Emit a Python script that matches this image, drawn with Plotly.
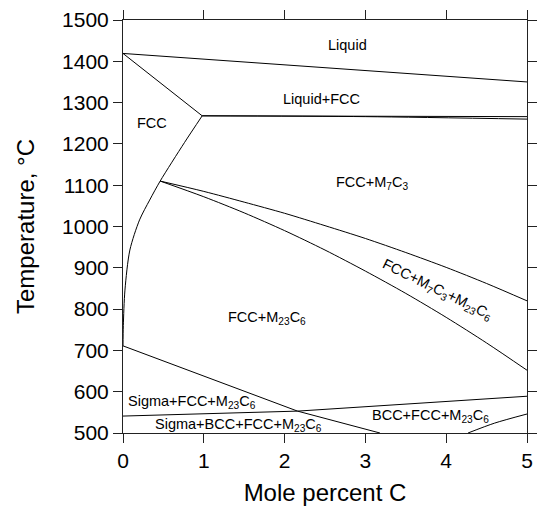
import plotly.graph_objects as go

# Phase boundary lines (Mole percent C, Temperature °C)
liquidus_x = [0, 5]
liquidus_t = [1419, 1350]

solidus_x = [0, 0.98]
solidus_t = [1419, 1268]

peritectic_a_x = [0.98, 5]
peritectic_a_t = [1268, 1266]
peritectic_b_x = [0.98, 3.0, 5]
peritectic_b_t = [1268, 1266, 1260]

fcc_solvus_x = [0.98, 0.76, 0.46, 0.33, 0.205, 0.085, 0.024, 0.004, 0.0]
fcc_solvus_t = [1268, 1203, 1110, 1064, 1016, 943, 846, 760, 711]

m7c3_upper_x = [0.46, 1.0, 1.5, 2.0, 2.5, 3.0, 3.5, 4.0, 4.5, 5.0]
m7c3_upper_t = [1110, 1085, 1059, 1032, 1002, 971, 937, 901, 862, 820]

m7c3_lower_x = [0.46, 1.0, 1.5, 2.0, 2.5, 3.0, 3.5, 4.0, 4.5, 5.0]
m7c3_lower_t = [1110, 1072, 1033, 990, 943, 892, 838, 780, 718, 652]

sigma_x = [0, 2.16, 3.18]
sigma_t = [711, 553, 500]

bcc_top_x = [0, 2.16, 5]
bcc_top_t = [541, 553, 589]

bcc_low_x = [4.27, 4.6, 5]
bcc_low_t = [500, 524, 546]

lines = [
    (liquidus_x, liquidus_t, "linear"), (solidus_x, solidus_t, "linear"),
    (peritectic_a_x, peritectic_a_t, "linear"), (peritectic_b_x, peritectic_b_t, "spline"),
    (fcc_solvus_x, fcc_solvus_t, "spline"), (m7c3_upper_x, m7c3_upper_t, "spline"),
    (m7c3_lower_x, m7c3_lower_t, "spline"), (sigma_x, sigma_t, "linear"),
    (bcc_top_x, bcc_top_t, "linear"), (bcc_low_x, bcc_low_t, "spline"),
]

# Region labels
label_text = ["Liquid", "Liquid+FCC", "FCC", "FCC+M<sub>7</sub>C<sub>3</sub>",
              "FCC+M<sub>23</sub>C<sub>6</sub>",
              "FCC+M<sub>7</sub>C<sub>3</sub>+M<sub>23</sub>C<sub>6</sub>",
              "Sigma+FCC+M<sub>23</sub>C<sub>6</sub>",
              "Sigma+BCC+FCC+M<sub>23</sub>C<sub>6</sub>",
              "BCC+FCC+M<sub>23</sub>C<sub>6</sub>"]
label_x = [2.78, 2.46, 0.36, 3.08, 1.78, 3.89, 0.86, 1.43, 3.81]
label_t = [1440, 1309, 1250, 1106, 778, 846, 576, 519, 540]
label_angle = [0, 0, 0, 0, 0, 26, 0, 0, 0]

x_ticks = [0, 1, 2, 3, 4, 5]
y_ticks = [500, 600, 700, 800, 900, 1000, 1100, 1200, 1300, 1400, 1500]

fig = go.Figure()
for xs, ts, shape in lines:
    fig.add_trace(go.Scatter(x=xs, y=ts, mode="lines",
                             line=dict(color="black", width=1, shape=shape, smoothing=0.8),
                             showlegend=False, hoverinfo="skip"))

for txt, lx, lt, ang in zip(label_text, label_x, label_t, label_angle):
    fig.add_annotation(x=lx, y=lt, text=txt, showarrow=False, textangle=ang,
                       font=dict(family="Liberation Sans, Arial", size=14.5, color="black"))

axis_common = dict(showline=True, linecolor="#222", linewidth=1, mirror="ticks",
                   ticks="outside", ticklen=9, tickwidth=1, tickcolor="#222",
                   showgrid=False, zeroline=False,
                   tickfont=dict(family="Liberation Sans, Arial", size=21, color="black"))

fig.update_xaxes(range=[0, 5], tickvals=x_ticks,
                 title=dict(text="Mole percent C", standoff=12,
                            font=dict(family="Liberation Sans, Arial", size=24, color="black")),
                 **axis_common)
fig.update_yaxes(range=[500, 1500], tickvals=y_ticks,
                 title=dict(text="Temperature, °C", standoff=20,
                            font=dict(family="Liberation Sans, Arial", size=24, color="black")),
                 **axis_common)

fig.update_layout(width=540, height=506, margin=dict(l=123, r=3, t=20, b=73),
                  plot_bgcolor="white", paper_bgcolor="white")

fig.write_html("out.html")
